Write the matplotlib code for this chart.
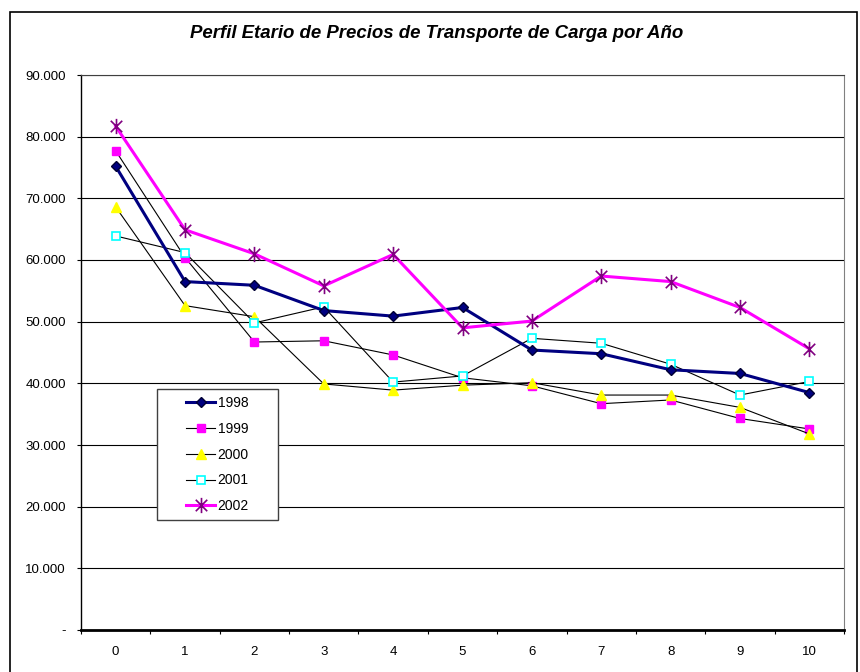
import numpy as np
import matplotlib
matplotlib.use("Agg")
import matplotlib.pyplot as plt
from matplotlib.path import Path
from matplotlib.patches import Rectangle
from matplotlib.ticker import FuncFormatter, MultipleLocator

plt.rcParams['font.family'] = ['Liberation Sans', 'DejaVu Sans']

# ages (category axis) and prices per year
edades = list(range(11))
p1998 = [75200, 56500, 55900, 51800, 50900, 52300, 45400, 44800, 42200, 41600, 38500]
p1999 = [77700, 60400, 46700, 46900, 44600, 40900, 39600, 36700, 37300, 34300, 32600]
p2000 = [68600, 52600, 50800, 39900, 38900, 39700, 40100, 38100, 38100, 36100, 31800]
p2001 = [63900, 61200, 49800, 52400, 40200, 41200, 47300, 46500, 43100, 38100, 40300]
p2002 = [81700, 64900, 61000, 55800, 60900, 49000, 50100, 57400, 56500, 52300, 45600]
anios = ['1998', '1999', '2000', '2001', '2002']
titulo = 'Perfil Etario de Precios de Transporte de Carga por Año'

# excel-like star: vertical bar + X
star = Path([(0, -1), (0, 1), (-0.75, -0.75), (0.75, 0.75), (-0.75, 0.75), (0.75, -0.75)],
            [Path.MOVETO, Path.LINETO, Path.MOVETO, Path.LINETO, Path.MOVETO, Path.LINETO])

W, H = 860, 672
fig = plt.figure(figsize=(8.6, 6.72), dpi=100)
# plot area in pixels: left 81, right 844, top 75, bottom 630
ax = fig.add_axes([81/W, 1 - 630/H, 763/W, 555/H])

ax.plot(edades, p1998, color='#000080', lw=2.2, marker='D', ms=5,
        mfc='#000080', mec='#000033', label=anios[0], zorder=5)
ax.plot(edades, p1999, color='black', lw=0.8, marker='s', ms=6,
        mfc='#FF00FF', mec='#FF00FF', label=anios[1], zorder=4)
ax.plot(edades, p2000, color='black', lw=0.8, marker='^', ms=7,
        mfc='#FFFF00', mec='#FFFF00', label=anios[2], zorder=4)
ax.plot(edades, p2001, color='black', lw=0.8, marker='s', ms=6,
        mfc='white', mec='#00FFFF', mew=1.2, label=anios[3], zorder=4)
ax.plot(edades, p2002, color='#FF00FF', lw=2.2, marker=star, ms=11,
        mec='#800080', mew=1.2, label=anios[4], zorder=6)

ax.set_xlim(-0.5, 10.5)
ax.set_ylim(0, 90000)
ax.yaxis.set_major_locator(MultipleLocator(10000))
ax.yaxis.set_major_formatter(FuncFormatter(
    lambda v, p: '-' if v == 0 else f'{int(v):,}'.replace(',', '.')))
ax.set_xticks(edades)
ax.set_xticklabels([str(e) for e in edades])
ax.set_xticks(np.arange(-0.5, 11, 1), minor=True)
ax.tick_params(axis='x', which='major', length=0, pad=11.5, labelsize=9.5)
ax.tick_params(axis='x', which='minor', length=3, width=0.8, direction='out')
ax.tick_params(axis='y', length=3, width=0.8, direction='out', labelsize=9.5, pad=8)

ax.grid(axis='y', color='black', lw=0.8)
ax.set_axisbelow(True)
ax.spines['left'].set_color('black')
ax.spines['left'].set_linewidth(1.0)
ax.spines['bottom'].set_color('black')
ax.spines['bottom'].set_linewidth(2.0)
ax.spines['bottom'].set_zorder(7)
ax.spines['top'].set_color('#404040')
ax.spines['right'].set_color('#808080')

# legend box drawn separately, entries centred inside it
bx0, by0, bw, bh = 0.0996, 0.198, 0.1586, 0.236
ax.add_patch(Rectangle((bx0, by0), bw, bh, transform=ax.transAxes,
                       facecolor='white', edgecolor='#404040', lw=1.0, zorder=9))
leg = ax.legend(loc='center', bbox_to_anchor=(bx0 + bw/2, by0 + bh/2),
                fontsize=10, frameon=False, handlelength=2.1,
                labelspacing=0.85, borderpad=0.2, handletextpad=0.15)
leg.set_zorder(10)

fig.text(437/W, 1 - 34/H, titulo, ha='center', va='center',
         fontsize=13.4, fontweight='bold', style='italic')

# chart area frame
fig.patches.append(Rectangle((10/W, -0.02), 847/W, 1.02 - 12/H, transform=fig.transFigure,
                             fill=False, edgecolor='black', lw=1.2))

fig.savefig('out.png', dpi=100)
